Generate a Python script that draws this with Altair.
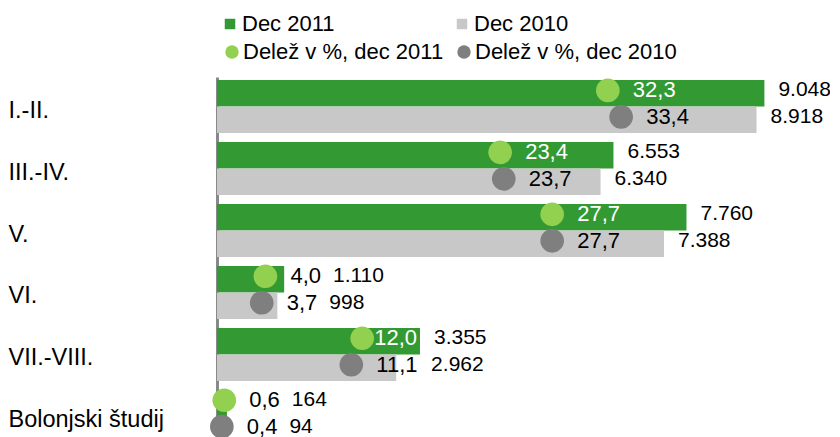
import altair as alt
import pandas as pd

categories = ["I.-II.", "III.-IV.", "V.", "VI.", "VII.-VIII.", "Bolonjski študij"]
dec2011 = [9048, 6553, 7760, 1110, 3355, 164]
dec2010 = [8918, 6340, 7388, 998, 2962, 94]
share2011 = [32.3, 23.4, 27.7, 4.0, 12.0, 0.6]
share2010 = [33.4, 23.7, 27.7, 3.7, 11.1, 0.4]

series_names = ["Dec 2011", "Dec 2010"]
share_names = ["Delež v %, dec 2011", "Delež v %, dec 2010"]

rows = []
for i, c in enumerate(categories):
    for s, sh, vals, pcts in [(series_names[0], share_names[0], dec2011, share2011),
                              (series_names[1], share_names[1], dec2010, share2010)]:
        v = vals[i]
        p = pcts[i]
        rows.append({
            "category": c,
            "series": s,
            "share_series": sh,
            "value": v,
            "pct": p,
            "val_lab": f"{v:,}".replace(",", "."),
            "pct_lab": f"{p:.1f}".replace(".", ","),
        })
df = pd.DataFrame(rows)

W = 605
XMAX = 10000
PMAX = 50
FS = 22
FONT = "Liberation Sans"

# circle path (unit circle shifted slightly upwards)
CIRCLE_UP = "M -1 -0.25 A 1 1 0 1 0 1 -0.25 A 1 1 0 1 0 -1 -0.25 Z"

base = alt.Chart(df).transform_calculate(
    bar_px=f"datum.value / {XMAX} * {W}",
    pct_px=f"datum.pct / {PMAX} * {W}",
    lab_w=f"(length(datum.pct_lab) - 1) * 0.556 * {FS} + 0.278 * {FS}",
).transform_calculate(
    raw_start="datum.pct_px + 25",
).transform_calculate(
    pct_start="(datum.series == 'Dec 2011' && datum.raw_start < datum.bar_px && datum.raw_start + datum.lab_w > datum.bar_px - 3) ? datum.bar_px - 3 - datum.lab_w : datum.raw_start",
).transform_calculate(
    inside="datum.series == 'Dec 2011' && datum.pct_start + datum.lab_w <= datum.bar_px",
    val_px="max(datum.bar_px + 14, datum.pct_start + datum.lab_w + 12)",
    circ_x=f"datum.pct * {XMAX} / {PMAX}",
).transform_calculate(
    pct_x=f"datum.pct_start / {W} * {XMAX}",
    val_x=f"datum.val_px / {W} * {XMAX}",
)

xscale = alt.Scale(domain=[0, XMAX], nice=False, zero=True)
yenc = alt.Y("category:N", sort=categories,
             scale=alt.Scale(paddingInner=0.145, paddingOuter=0.05),
             axis=alt.Axis(title=None, domainColor="#898989", domainWidth=3,
                           ticks=False, tickSize=0, labelAlign="left",
                           labelPadding=209, labelFontSize=23.5, labelColor="black",
                           labelFont=FONT, grid=False, labelBaseline="middle",
                           labelOffset=4))
yoff = alt.YOffset("series:N", sort=series_names)

bars = base.mark_bar().encode(
    x=alt.X("value:Q", scale=xscale, axis=None),
    y=yenc,
    yOffset=yoff,
    color=alt.Color("series:N", sort=series_names,
                    scale=alt.Scale(domain=series_names, range=["#339933", "#C8C8C8"]),
                    legend=alt.Legend(title=None, orient="none", legendX=2, legendY=-64,
                                      direction="horizontal", columns=2,
                                      symbolType="square", symbolSize=110,
                                      labelFontSize=22, labelFont=FONT, labelColor="black",
                                      columnPadding=116, labelOffset=1, padding=0,
                                      labelLimit=400, symbolStrokeWidth=0)),
)

circles = base.mark_point(shape=CIRCLE_UP, size=560, filled=True, opacity=1,
                          strokeWidth=0).encode(
    x=alt.X("circ_x:Q", scale=xscale, axis=None),
    y=yenc,
    yOffset=yoff,
    color=alt.Color("share_series:N", sort=share_names,
                    scale=alt.Scale(domain=share_names, range=["#92D050", "#7F7F7F"]),
                    legend=alt.Legend(title=None, orient="none", legendX=4, legendY=-36,
                                      direction="horizontal", columns=2,
                                      symbolType="circle", symbolSize=180,
                                      labelFontSize=22, labelFont=FONT, labelColor="black",
                                      columnPadding=9, labelOffset=0, padding=0,
                                      labelLimit=400, symbolStrokeWidth=0,
                                      symbolOpacity=1)),
)

pct_text = base.mark_text(align="left", baseline="middle", fontSize=FS, font=FONT,
                          dy=-3).encode(
    x=alt.X("pct_x:Q", scale=xscale, axis=None),
    y=yenc,
    yOffset=yoff,
    text="pct_lab:N",
    color=alt.condition("datum.inside", alt.value("white"), alt.value("black")),
)

val_text = base.mark_text(align="left", baseline="middle", fontSize=21, font=FONT,
                          color="black", dy=-3).encode(
    x=alt.X("val_x:Q", scale=xscale, axis=None),
    y=yenc,
    yOffset=yoff,
    text="val_lab:N",
)

chart = alt.layer(bars, circles, pct_text, val_text).resolve_scale(
    color="independent"
).properties(
    width=W,
    height=369,
    autosize=alt.AutoSizeParams(type="none"),
    padding={"left": 209, "top": 69, "right": 8, "bottom": 5},
).configure_view(stroke=None)

chart.save("out.html", embed_options={"renderer": "svg", "actions": False})
